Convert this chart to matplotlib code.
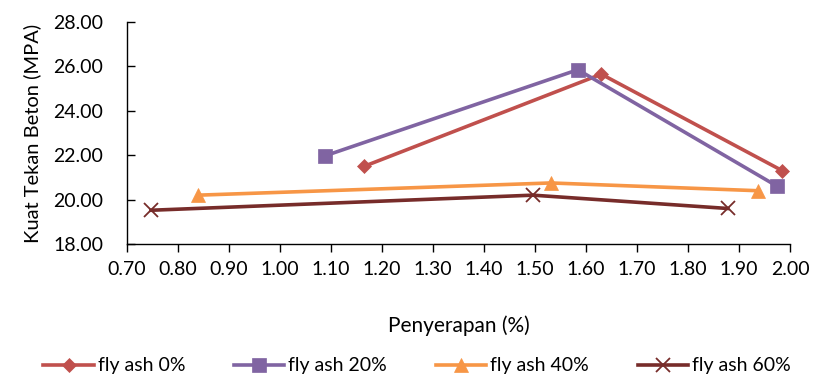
import matplotlib
matplotlib.use("Agg")
import matplotlib.pyplot as plt
from matplotlib.ticker import FormatStrFormatter, MultipleLocator

plt.rcParams['font.family'] = ['Lato', 'DejaVu Sans']

series_names = ["fly ash 0%", "fly ash 20%", "fly ash 40%", "fly ash 60%"]
x0 = [1.165, 1.63, 1.985]
y0 = [21.5, 25.65, 21.3]
x20 = [1.088, 1.584, 1.975]
y20 = [21.97, 25.85, 20.6]
x40 = [0.84, 1.531, 1.937]
y40 = [20.2, 20.75, 20.4]
x60 = [0.747, 1.496, 1.878]
y60 = [19.52, 20.2, 19.6]

colors = ["#C0504D", "#8064A2", "#F79646", "#772C2A"]
markers = ["D", "s", "^", "x"]
msizes = [7, 10, 10, 10]

fig = plt.figure(figsize=(8.13, 3.78), dpi=100)
ax = fig.add_axes([127/813, 1-244/378, (790-127)/813, (244-22)/378])

data = [(x0, y0), (x20, y20), (x40, y40), (x60, y60)]
for (xs, ys), name, c, m, ms in zip(data, series_names, colors, markers, msizes):
    ax.plot(xs, ys, color=c, lw=2.6, marker=m, markersize=ms, label=name,
            markeredgewidth=1.3 if m == "x" else 0.5, markeredgecolor=c)

ax.set_xlim(0.7, 2.0)
ax.set_ylim(18, 28)
ax.xaxis.set_major_locator(MultipleLocator(0.1))
ax.yaxis.set_major_locator(MultipleLocator(2))
ax.xaxis.set_major_formatter(FormatStrFormatter('%.2f'))
ax.yaxis.set_major_formatter(FormatStrFormatter('%.2f'))
for s in ["top", "right"]:
    ax.spines[s].set_visible(False)
for s in ["left", "bottom"]:
    ax.spines[s].set_linewidth(1.0)
ax.tick_params(axis='x', direction='out', length=5.5, width=1, labelsize=14, colors='black', pad=7)
ax.tick_params(axis='y', direction='in', length=5.5, width=1, labelsize=14, colors='black', pad=17)

ax.set_ylabel("Kuat Tekan Beton (MPA)", fontsize=14.5, labelpad=9)
ax.set_xlabel("Penyerapan (%)", fontsize=15, labelpad=27)

fig.legend(loc='center', bbox_to_anchor=(0.513, 1-366/378), ncol=4, frameon=False,
           fontsize=14, handlelength=2.6, columnspacing=2.5, handletextpad=0.2)

fig.savefig("out.png", dpi=100)
